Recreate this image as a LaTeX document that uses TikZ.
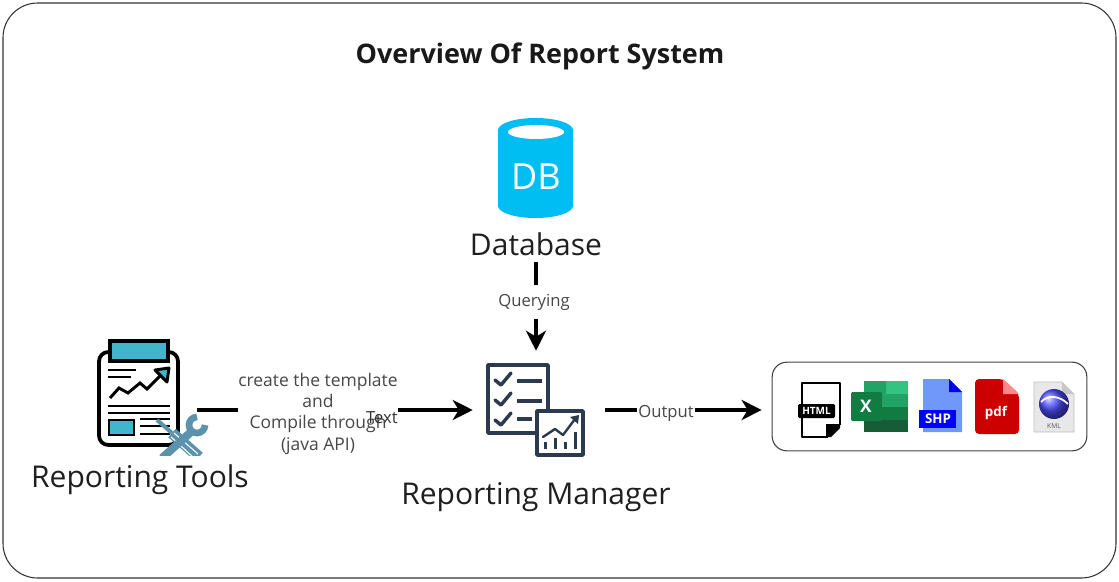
\documentclass[tikz,border=0pt]{standalone}
\usepackage{fontspec}
\setmainfont{Open Sans}
\usetikzlibrary {arrows.meta}

\definecolor{dbblue}{HTML}{00BEF2}
\definecolor{toolteal}{HTML}{3FB6CC}
\definecolor{wrenchblue}{HTML}{5B93AD}
\definecolor{managerink}{HTML}{2B3A4E}
\definecolor{xlslight}{HTML}{33C481}
\definecolor{xlsmid}{HTML}{21A366}
\definecolor{xlsdark}{HTML}{107C41}
\definecolor{xlsdeep}{HTML}{185C37}
\definecolor{shppage}{HTML}{7098FB}
\definecolor{shpfold}{HTML}{0000EE}
\definecolor{shpbadge}{HTML}{0000FF}
\definecolor{pdfred}{HTML}{CC0000}
\definecolor{pdffold}{HTML}{FF8A8A}

\begin{document}
\begin{tikzpicture}[x=0.75pt,y=-0.75pt,
    bigtext/.style={font=\fontsize{22.5}{26}\selectfont,text=black!88,inner sep=0pt},
    edgetext/.style={font=\fontsize{12.5}{16}\selectfont,text=black!72,inner sep=0pt,align=center},
    flow/.style={line width=3pt,-{Stealth[length=15pt,width=15pt,inset=4.5pt]}},
    hole/.style={minimum width=#1,inner sep=0pt},
    toolline/.style={line width=2.2pt,black},
    mgrline/.style={line width=2.6pt,managerink,line cap=round,line join=round},
    badge/.style={text=white,inner sep=0pt}
]

    \useasboundingbox (0,0) rectangle (1119,581);
    \draw[black!80,line width=0.8pt,rounded corners=26pt] (3,3) rectangle (1116,578);

    \node[font=\fontsize{20.2}{24}\bfseries\selectfont,text=black!90,inner sep=0pt] (title) at (540,56) {Overview Of Report System};

    % database
    \fill[dbblue] (498,130) arc[start angle=180,end angle=360,x radius=37.5,y radius=12] -- (573,206) arc[start angle=0,end angle=180,x radius=37.5,y radius=12] -- cycle;
    \fill[white] (536,132) ellipse[x radius=28,y radius=7];
    \node[font=\fontsize{27}{30}\selectfont,text=white,inner sep=0pt] (dbmark) at (536,177) {DB};
    \node[bigtext] (database) at (536,244.5) {Database};
    \coordinate (dbfoot) at (536,262);

    % reporting tools
    \node[hole=87pt,minimum height=60pt] (tools) at (139,410) {};
    \draw[line width=2.8pt,rounded corners=7pt] (110,352) -- (99,352) -- (99,445) -- (178,445) -- (178,352) -- (168,352);
    \draw[line width=2.4pt,fill=toolteal] (110,341) rectangle (168,361);
    \draw[toolline] (108,370) -- (136,370) (108,377) -- (131,377);
    \draw[toolline] (110,398) -- (119,388) -- (128,393) -- (140,383) -- (147,389) -- (163,373);
    \draw[toolline,fill=toolteal,line join=round] (155,370) -- (169,368) -- (167,382) -- cycle;
    \draw[toolline] (108,406) -- (170,406) (108,413) -- (170,413);
    \draw[line width=2.2pt,fill=toolteal] (109,420) rectangle (134,435);
    \draw[toolline] (140,419) -- (170,419) (140,426) -- (170,426) (140,434) -- (170,434);
    \begin{scope}
        \clip (150,410) rectangle (215,455);
        \draw[wrenchblue,line width=3pt] (157,420) -- (172,433);
        \draw[wrenchblue,line width=8.5pt] (172,433) -- (199,457);
        \draw[white,line width=0.8pt] (174,433) -- (198,454) (171,437) -- (193,457);
        \draw[wrenchblue,line width=6pt] (191,432) -- (162,458);
        \draw[wrenchblue,line width=5pt] (197,417) arc[start angle=270,end angle=0,radius=8];
    \end{scope}
    \node[bigtext] (toolstext) at (140,479.5) {Reporting Tools};

    % reporting manager
    \node[hole=99pt,minimum height=88.5pt] (manager) at (539,410) {};
    \draw[mgrline,line cap=butt] (548,409) -- (548,365) -- (488,365) -- (488,433) -- (535,433);
    \foreach \rowy in {0,20,40} {
        \draw[mgrline] (495,380+\rowy) -- (501,385+\rowy) -- (511,373+\rowy);
    }
    \draw[mgrline,line cap=butt] (517,381) -- (542,381) (517,401) -- (542,401) (517,419) -- (532,419);
    \draw[mgrline] (537,411) rectangle (583,455);
    \draw[mgrline,line width=1.8pt] (543,437) -- (555,429) -- (563,435) -- (575,419);
    \fill[managerink] (570,417) -- (579,415) -- (578,424) -- cycle;
    \foreach \barx/\bartop in {545/442,555/438,565/442,575/432} {
        \fill[managerink] (\barx-1.5,\bartop) rectangle (\barx+1.5,449);
    }
    \node[bigtext] (managertext) at (536,497) {Reporting Manager};

    % output formats
    \node[draw=black!75,line width=0.8pt,rounded corners=11pt,minimum width=236pt,minimum height=66.5pt] (output) at (929.5,406.5) {};

    \draw[line width=1.6pt,line join=round] (828,437) -- (802,437) -- (802,383) -- (840,383) -- (840,425);
    \fill (840,424) -- (840,428) -- (831,437) -- (826,437) -- (826,424) -- cycle;
    \fill[rounded corners=1pt] (798,404) rectangle (835,418);
    \node[badge,font=\fontsize{7.5}{8}\bfseries\selectfont] (htmlmark) at (816.5,411) {HTML};

    \fill[xlslight] (886,381) rectangle (908,394);
    \fill[xlsmid] (864,381) rectangle (886,394) (886,394) rectangle (908,407) (864,394) rectangle (886,407);
    \fill[xlsdark] (864,407) rectangle (908,420);
    \fill[xlsdeep] (864,420) rectangle (908,432);
    \fill[xlsdark,rounded corners=1pt] (851,392) rectangle (882,421);
    \node[badge,font=\fontsize{13}{14}\bfseries\selectfont] (xlsmark) at (866,406) {X};

    \fill[shppage] (923,379) -- (949,379) -- (962,392) -- (962,432) -- (923,432) -- cycle;
    \fill[shpfold] (949,379) -- (962,392) -- (949,392) -- cycle;
    \fill[shpbadge] (919,410) rectangle (956,428);
    \node[badge,font=\fontsize{10}{11}\bfseries\selectfont] (shpmark) at (938,419) {SHP};

    \fill[pdfred,rounded corners=3pt] (975,379) -- (1003,379) -- (1019,394) -- (1019,434) -- (975,434) -- cycle;
    \fill[pdffold] (1003,379) -- (1019,394) -- (1003,394) -- cycle;
    \node[badge,font=\fontsize{10}{11}\bfseries\selectfont] (pdfmark) at (996,413) {pdf};

    \filldraw[fill=black!9,draw=black!25,line width=0.5pt] (1034,382) -- (1062,382) -- (1074,394) -- (1074,432) -- (1034,432) -- cycle;
    \fill[black!22] (1062,382) -- (1074,394) -- (1062,394) -- cycle;
    \shade[ball color=blue!70] (1054,404) circle[radius=11.25pt];
    \draw[white,line width=1.3pt] (1041,402) .. controls (1048,394) and (1060,396) .. (1068,404);
    \node[font=\fontsize{5}{6}\selectfont,text=black!65,inner sep=0pt] (kmlmark) at (1054,426) {KML};

    % connectors
    \draw[flow] (tools.east) -- (manager.west);
    \draw[flow,shorten >=7.5pt] (manager.east) -- (manager.east -| output.west);
    \draw[flow] (dbfoot) -- (dbfoot |- manager.north);

    \node[edgetext,fill=white,font=\fontsize{13.1}{16}\selectfont] (templatetext) at (318,413.5) {create the template\\and\\Compile through\\(java API)};
    \node[edgetext,text=black!80] (flowtext) at (382,418) {Text};
    \node[edgetext,fill=white,inner xsep=1pt,inner ysep=2pt] (outputtext) at (666,413) {Output};
    \node[edgetext,fill=white,inner ysep=7pt,inner xsep=1pt] (querytext) at (534,302) {Querying};

\end{tikzpicture}
\end{document}
